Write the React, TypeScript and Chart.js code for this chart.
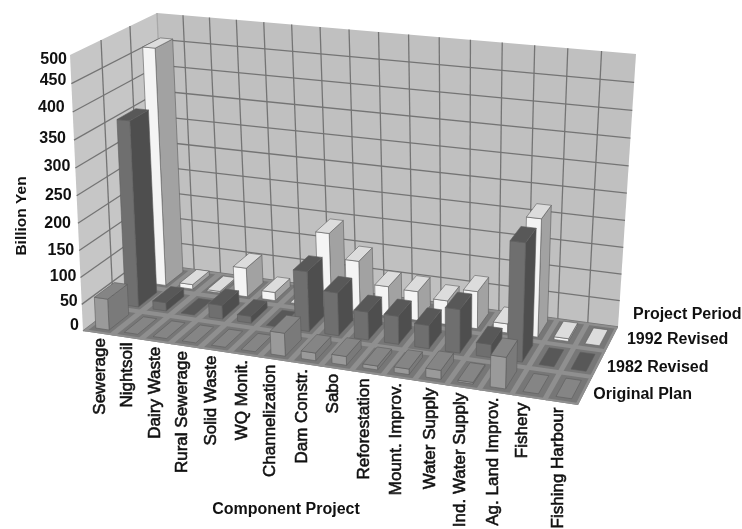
import React, { useEffect, useRef } from "react";
import { Chart, registerables } from "chart.js";

Chart.register(...registerables);

const projects = [
  "Sewerage", "Nightsoil", "Dairy Waste", "Rural Sewerage", "Solid Waste", "WQ Monit.",
  "Channelization", "Dam Constr.", "Sabo", "Reforestation", "Mount. Improv.", "Water Supply",
  "Ind. Water Supply", "Ag. Land Improv.", "Fishery", "Fishing Harbour",
];
const periods = ["Original Plan", "1982 Revised", "1992 Revised"];

const originalPlan = [58, 0, 0, 0, 0, 0, 42, 14, 16, 7, 10, 16, 3, 56, 0, 0];
const revised1982 = [352, 16, 0, 26, 13, 0, 112, 80, 52, 52, 43, 80, 24, 215, 0, 0];
const revised1992 = [458, 9, 3, 56, 16, 0, 144, 98, 57, 55, 45, 70, 17, 219, 5, 0];

const valueTicks = [0, 50, 100, 150, 200, 250, 300, 350, 400, 450, 500];

type Pt = [number, number];

// Face colours of each period's boxes: front, side, top.
const faceColours = [
  ["#9a9a9a", "#7a7a7a", "#858585"],
  ["#6f6f6f", "#4e4e4e", "#585858"],
  ["#f4f4f4", "#a2a2a2", "#dcdcdc"],
];

// Hand-placed offsets of the value labels from their grid lines, by tick.
const valueLabelOffset: Record<number, Pt> = {
  0: [-4, -5], 50: [-4, -3], 100: [-4, -1], 150: [-5, 0], 200: [-7, 0], 250: [-5, 0],
  300: [-5, -1], 350: [-8, -1], 400: [-8, -4], 450: [-5, -3], 500: [-3, 5],
};
// Small sideways corrections of the category labels.
const categoryLabelOffset = [3, 1, 0, -2, -2, -1, -4, -2, -2, -2, -2, 0, -2, -2, -6, -3];

// Maps the unit square onto a quadrilateral given as (0,0), (1,0), (1,1), (0,1).
function squareToQuad(q: Pt[]) {
  const [[x0, y0], [x1, y1], [x2, y2], [x3, y3]] = q;
  const dx1 = x1 - x2, dx2 = x3 - x2, sx = x0 - x1 + x2 - x3;
  const dy1 = y1 - y2, dy2 = y3 - y2, sy = y0 - y1 + y2 - y3;
  const den = dx1 * dy2 - dx2 * dy1;
  const g = (sx * dy2 - dx2 * sy) / den;
  const h = (dx1 * sy - sx * dy1) / den;
  const a = x1 - x0 + g * x1, b = x3 - x0 + h * x3;
  const d = y1 - y0 + g * y1, e = y3 - y0 + h * y3;
  return (u: number, v: number): Pt => {
    const w = g * u + h * v + 1;
    return [(a * u + b * v + x0) / w, (d * u + e * v + y0) / w];
  };
}

// Perspective frame: the floor plane and the plane of the axis maximum.
const floorPlane = squareToQuad([[83, 331], [578, 405], [618, 327], [168, 266]]);
const ceilingPlane = squareToQuad([[70, 55], [595, 109], [636, 54], [157, 13]]);

function project(u: number, depth: number, level: number): Pt {
  const a = floorPlane(u, depth);
  const b = ceilingPlane(u, depth);
  // The camera sits above the chart, so equal value steps grow towards the top.
  const t = level / (level + (1 - level) * 1.04);
  return [a[0] + (b[0] - a[0]) * t, a[1] + (b[1] - a[1]) * t];
}

function tracePath(ctx: CanvasRenderingContext2D, pts: Pt[]) {
  ctx.beginPath();
  pts.forEach((p, i) => (i ? ctx.lineTo(p[0], p[1]) : ctx.moveTo(p[0], p[1])));
  ctx.closePath();
}

function polygon(ctx: CanvasRenderingContext2D, pts: Pt[], fill: string, stroke?: string, lw = 0.6) {
  tracePath(ctx, pts);
  ctx.fillStyle = fill;
  ctx.fill();
  if (stroke) {
    ctx.strokeStyle = stroke;
    ctx.lineWidth = lw;
    ctx.stroke();
  }
}

function segment(ctx: CanvasRenderingContext2D, a: Pt, b: Pt, colour: string, lw: number) {
  ctx.beginPath();
  ctx.moveTo(a[0], a[1]);
  ctx.lineTo(b[0], b[1]);
  ctx.strokeStyle = colour;
  ctx.lineWidth = lw;
  ctx.stroke();
}

const FONT = "'Liberation Sans', Arial, sans-serif";

const scene3d = {
  id: "scene3d",
  beforeDatasetDraw: () => false,
  beforeDatasetsDraw(chart: any) {
    const { ctx, chartArea: area, scales } = chart;
    const toU = (px: number) => (px - area.left) / (area.right - area.left);
    const toLevel = (px: number) => (area.bottom - px) / (area.bottom - area.top);
    const rows = periods.length;
    const cats = projects.length;

    ctx.save();

    // Walls
    polygon(ctx, [project(0, 0, 0), project(0, 1, 0), project(0, 1, 1), project(0, 0, 1)], "#c6c6c6");
    polygon(ctx, [project(0, 1, 0), project(1, 1, 0), project(1, 1, 1), project(0, 1, 1)], "#c0c0c0");

    // Wall grid
    const gridColour = "#747474";
    for (const t of valueTicks) {
      if (t === 500) continue;
      const level = toLevel(scales.y.getPixelForValue(t));
      segment(ctx, project(0, 0, level), project(0, 1, level), gridColour, 1.3);
      segment(ctx, project(0, 1, level), project(1, 1, level), gridColour, 1.3);
    }
    for (let k = 1; k < cats; k++) {
      segment(ctx, project(k / cats, 1, 0), project(k / cats, 1, 1), gridColour, 1.3);
    }
    for (let r = 1; r <= rows; r++) {
      segment(ctx, project(0, r / rows, 0), project(0, r / rows, 1), r === rows ? "#a8a8a8" : gridColour, 1.3);
    }

    // Floor: darker cells divided by lighter strips, kept inside the floor outline
    const floorOutline = [project(0, 0, 0), project(1, 0, 0), project(1, 1, 0), project(0, 1, 0)];
    polygon(ctx, floorOutline, "#777777");
    ctx.save();
    tracePath(ctx, floorOutline);
    ctx.clip();
    for (let k = 0; k <= cats; k++) {
      segment(ctx, project(k / cats, 0, 0), project(k / cats, 1, 0), "#8f8f8f", 5);
    }
    for (let r = 0; r <= rows; r++) {
      segment(ctx, project(0, r / rows, 0), project(1, r / rows, 0), "#8f8f8f", 4);
    }
    ctx.restore();

    // Boxes, far row first and left to right within a row
    const depthFill = 0.66;
    for (let ds = chart.data.datasets.length - 1; ds >= 0; ds--) {
      const bars = chart.getDatasetMeta(ds).data;
      const centre = (scales.depth.getPixelForValue(ds) - scales.depth.left) / scales.depth.width;
      const z0 = centre - depthFill / rows / 2;
      const z1 = centre + depthFill / rows / 2;
      const [front, side, top] = faceColours[ds];
      bars.forEach((bar: any) => {
        const u0 = toU(bar.x - bar.width / 2);
        const u1 = toU(bar.x + bar.width / 2);
        const h = toLevel(bar.y);
        const edge = "#5c5c5c";
        if (h > 0) {
          polygon(ctx, [project(u1, z0, 0), project(u1, z1, 0), project(u1, z1, h), project(u1, z0, h)], side, edge);
          polygon(ctx, [project(u0, z0, 0), project(u1, z0, 0), project(u1, z0, h), project(u0, z0, h)], front, edge);
        }
        polygon(ctx, [project(u0, z0, h), project(u1, z0, h), project(u1, z1, h), project(u0, z1, h)], top, edge);
      });
    }

    // Text
    ctx.fillStyle = "#111";
    ctx.textBaseline = "middle";

    ctx.font = `bold 16px ${FONT}`;
    ctx.textAlign = "right";
    for (const t of valueTicks) {
      const level = toLevel(scales.y.getPixelForValue(t));
      const p = project(0, 0, level);
      const [dx, dy] = valueLabelOffset[t];
      ctx.fillText(String(t), p[0] + dx, p[1] + dy);
    }

    // Category labels hang below the front edge of the floor
    ctx.font = `17px ${FONT}`;
    ctx.lineWidth = 0.55;
    ctx.strokeStyle = "#111";
    scales.x.getLabels().forEach((label: string, i: number) => {
      const p = project(toU(scales.x.getPixelForValue(i)), 0, 0);
      ctx.save();
      ctx.translate(p[0] + categoryLabelOffset[i], p[1] + 5);
      ctx.rotate(-Math.PI / 2);
      ctx.textAlign = "right";
      ctx.fillText(label, 0, 0);
      ctx.strokeText(label, 0, 0);
      ctx.restore();
    });

    // Row labels follow the right edge of the floor
    ctx.font = `bold 16px ${FONT}`;
    ctx.textAlign = "left";
    periods.forEach((label, r) => {
      const p = project(1, (r + 0.5) / rows, 0);
      ctx.fillText(label, p[0] + 8 + (r === 2 ? 7 : 0), p[1] + 4 - (r === 2 ? 3 : 0));
    });

    ctx.fillText("Project Period", 633, 315);
    ctx.textAlign = "center";
    ctx.fillText("Component Project", 286, 510);

    ctx.save();
    ctx.translate(22, 216);
    ctx.rotate(-Math.PI / 2);
    ctx.font = `bold 15.5px ${FONT}`;
    ctx.fillText("Billion Yen", 0, 0);
    ctx.restore();

    ctx.restore();
  },
};

export default function App() {
  const ref = useRef<HTMLCanvasElement>(null);
  useEffect(() => {
    const chart = new Chart(ref.current!, {
      type: "bar",
      data: {
        labels: projects,
        datasets: [
          { label: periods[0], data: originalPlan },
          { label: periods[1], data: revised1982 },
          { label: periods[2], data: revised1992 },
        ],
      },
      options: {
        responsive: false,
        animation: false,
        events: [],
        datasets: { bar: { grouped: false, categoryPercentage: 1, barPercentage: 0.47 } },
        plugins: { legend: { display: false }, tooltip: { enabled: false } },
        scales: {
          x: { display: false },
          y: { display: false, min: 0, max: 500, ticks: { stepSize: 50 } },
          depth: { type: "category", axis: "x", labels: periods, display: false, offset: true },
        },
      },
      plugins: [scene3d],
    } as any);
    return () => chart.destroy();
  }, []);
  return (
    <div style={{ position: "absolute", left: 0, top: 0, width: 742, height: 529, background: "#fff" }}>
      <canvas ref={ref} width={742} height={529} style={{ display: "block" }} />
    </div>
  );
}
